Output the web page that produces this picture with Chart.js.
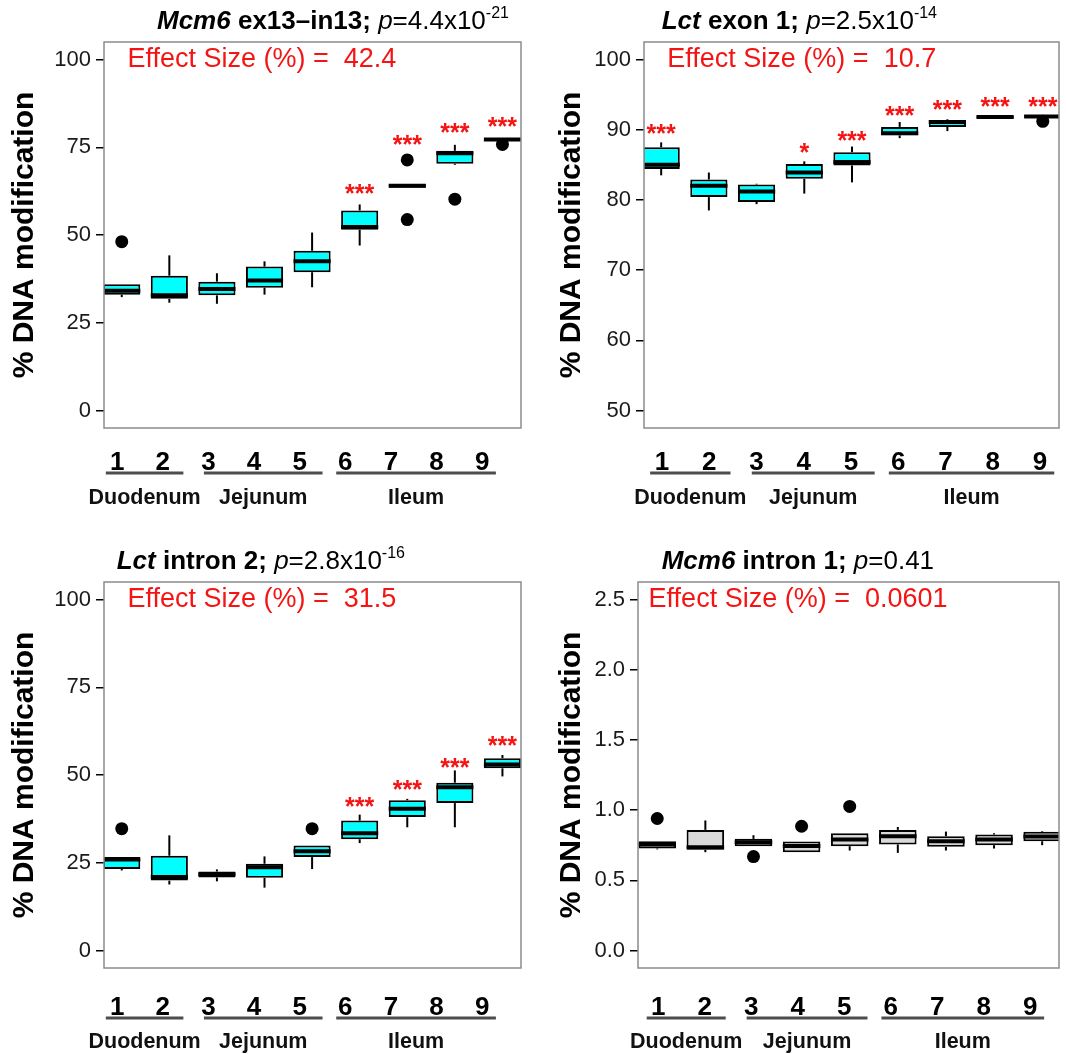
<!DOCTYPE html>
<html>
<head>
<meta charset="utf-8">
<script src="https://cdn.jsdelivr.net/npm/chart.js@4.4.0/dist/chart.umd.min.js"></script>
<style>
  body { margin: 0; background: #fff; }
  #wrap { position: relative; width: 1066px; height: 1054px; }
  canvas { position: absolute; }
</style>
</head>
<body>
<div id="wrap">
  <canvas id="p1" width="540" height="540" style="left:0;top:0"></canvas>
  <canvas id="p2" width="526" height="540" style="left:540px;top:0"></canvas>
  <canvas id="p3" width="540" height="514" style="left:0;top:540px"></canvas>
  <canvas id="p4" width="526" height="514" style="left:540px;top:540px"></canvas>
</div>
<script>
// intestinal segments
const categories = ['1', '2', '3', '4', '5', '6', '7', '8', '9'];
const groupNames = ['Duodenum', 'Jejunum', 'Ileum'];
const groupFrom = [0.75, 2.9, 5.8];
const groupTo = [2.45, 5.5, 9.3];

// y tick values
const pctTicks = [0, 25, 50, 75, 100];
const exonTicks = [50, 60, 70, 80, 90, 100];
const lowTicks = [0, 0.5, 1.0, 1.5, 2.0, 2.5];

// Mcm6 ex13-in13
const mcm6ExQ1  = [33.0, 31.8, 32.8, 35.0, 39.4, 51.5, 63.5, 70.3, 76.8];
const mcm6ExMed = [34.1, 32.8, 34.6, 37.0, 42.5, 52.3, 64.0, 73.3, 77.2];
const mcm6ExQ3  = [36.0, 38.4, 36.7, 41.0, 45.5, 57.0, 64.5, 74.0, 77.5];
const mcm6ExLo  = [32.3, 30.7, 30.4, 33.0, 35.1, 47.0, 63.5, 70.0, 76.8];
const mcm6ExHi  = [36.0, 44.2, 39.1, 42.5, 50.7, 58.7, 64.5, 75.7, 77.6];
const mcm6ExOutX = [1, 7, 7, 8, 9];
const mcm6ExOutY = [48.1, 71.4, 54.4, 60.2, 75.8];
const mcm6ExStarX = [6, 7, 8, 9];
const mcm6ExStarY = [63.3, 77.4, 80.7, 82.6];
const mcm6ExStars = ['***', '***', '***', '***'];

// Lct exon 1
const lctExQ1  = [84.4, 80.4, 79.7, 83.0, 84.9, 89.2, 90.4, 91.6, 91.7];
const lctExMed = [85.0, 82.0, 81.2, 83.9, 85.4, 89.5, 91.1, 91.8, 91.9];
const lctExQ3  = [87.5, 82.9, 82.2, 85.1, 86.8, 90.4, 91.4, 92.0, 92.1];
const lctExLo  = [83.5, 78.5, 79.4, 80.9, 82.5, 88.8, 89.8, 91.6, 91.7];
const lctExHi  = [88.2, 83.9, 82.3, 85.5, 87.6, 91.1, 91.5, 92.0, 92.1];
const lctExOutX = [9];
const lctExOutY = [91.2];
const lctExStarX = [1, 4, 5, 6, 7, 8, 9];
const lctExStarY = [90.3, 87.6, 89.3, 92.8, 93.7, 94.1, 94.1];
const lctExStars = ['***', '*', '***', '***', '***', '***', '***'];

// Lct intron 2
const lctInQ1  = [23.2, 19.9, 20.8, 20.7, 26.6, 31.7, 38.0, 42.0, 51.9];
const lctInMed = [25.9, 20.9, 21.7, 23.7, 28.3, 33.4, 40.4, 46.5, 53.0];
const lctInQ3  = [26.6, 27.0, 22.5, 24.7, 29.9, 37.0, 42.8, 47.8, 54.8];
const lctInLo  = [22.8, 18.8, 19.7, 17.9, 23.2, 30.6, 35.1, 35.1, 49.6];
const lctInHi  = [26.6, 32.8, 23.1, 26.8, 29.9, 38.7, 43.2, 51.3, 55.7];
const lctInOutX = [1, 5];
const lctInOutY = [34.7, 34.7];
const lctInStarX = [6, 7, 8, 9];
const lctInStarY = [42.7, 47.3, 53.8, 60.1];
const lctInStars = ['***', '***', '***', '***'];

// Mcm6 intron 1
const mcm6InQ1  = [0.726, 0.717, 0.743, 0.700, 0.743, 0.755, 0.738, 0.750, 0.778];
const mcm6InMed = [0.755, 0.736, 0.771, 0.745, 0.790, 0.814, 0.778, 0.790, 0.812];
const mcm6InQ3  = [0.778, 0.859, 0.795, 0.776, 0.835, 0.859, 0.814, 0.826, 0.845];
const mcm6InLo  = [0.720, 0.700, 0.743, 0.700, 0.712, 0.695, 0.712, 0.726, 0.750];
const mcm6InHi  = [0.778, 0.926, 0.821, 0.776, 0.835, 0.880, 0.847, 0.835, 0.850];
const mcm6InOutX = [1, 3, 4, 5];
const mcm6InOutY = [0.940, 0.669, 0.885, 1.026];

const FONT = '"Liberation Sans", Arial, Helvetica, sans-serif';
const RED = '#f41414';
const BOX_W = 0.78;

Chart.defaults.font.family = FONT;
Chart.defaults.color = '#1a1a1a';

function extras(p) {
  return {
    id: 'extras',
    afterDatasetsDraw(chart) {
      const { ctx, chartArea: a, scales: { x, y } } = chart;
      ctx.save();
      ctx.strokeStyle = '#8c8c8c';
      ctx.lineWidth = 1.5;
      ctx.strokeRect(a.left, a.top, a.right - a.left, a.bottom - a.top);

      // significance stars
      ctx.fillStyle = RED;
      ctx.font = 'bold 25px ' + FONT;
      ctx.textAlign = 'center';
      ctx.textBaseline = 'alphabetic';
      p.starX.forEach((sx, i) => {
        ctx.fillText(p.stars[i], x.getPixelForValue(sx), y.getPixelForValue(p.starY[i]) + 14);
      });

      ctx.font = '27px ' + FONT;
      ctx.textAlign = 'left';
      ctx.textBaseline = 'middle';
      ctx.fillText('Effect Size (%) =  ' + p.effect, a.left + p.effectDx,
        y.getPixelForValue(p.yTicks[p.yTicks.length - 1]));
      ctx.restore();
    },
    afterDraw(chart) {
      const { ctx, chartArea: a } = chart;
      const xl = chart.scales.xl;
      ctx.save();

      // title: italic gene name, bold region, p value
      ctx.fillStyle = '#000';
      ctx.textAlign = 'left';
      ctx.textBaseline = 'alphabetic';
      const parts = [
        { t: p.gene, f: 'italic bold 26px ' + FONT, dy: 0 },
        { t: p.region, f: 'bold 26px ' + FONT, dy: 0 },
        { t: ' ', f: '26px ' + FONT, dy: 0 },
        { t: 'p', f: 'italic 26px ' + FONT, dy: 0 },
        { t: p.pval, f: '26px ' + FONT, dy: 0 },
        { t: p.pexp, f: '16px ' + FONT, dy: -11 }
      ];
      let tx = p.titleX;
      parts.forEach(s => {
        if (!s.t) return;
        ctx.font = s.f;
        ctx.fillText(s.t, tx, p.titleY + s.dy);
        tx += ctx.measureText(s.t).width;
      });

      // segment groups under the axis
      ctx.strokeStyle = '#4d4d4d';
      ctx.lineWidth = 3;
      ctx.fillStyle = '#111';
      ctx.font = 'bold 21.5px ' + FONT;
      ctx.textAlign = 'center';
      ctx.textBaseline = 'middle';
      groupNames.forEach((g, i) => {
        const x0 = xl.getPixelForValue(groupFrom[i]);
        const x1 = xl.getPixelForValue(groupTo[i]);
        ctx.beginPath();
        ctx.moveTo(x0, a.bottom + p.lineDy);
        ctx.lineTo(x1, a.bottom + p.lineDy);
        ctx.stroke();
        ctx.fillText(g, (x0 + x1) / 2, a.bottom + p.groupDy);
      });
      ctx.restore();
    }
  };
}

function boxPanel(id, p) {
  const canvas = document.getElementById(id);
  const xs = categories.map((c, i) => i + 1);
  const boxes = xs.map((x, i) => ({ x, y: [p.q1[i], p.q3[i]] }));
  const upper = xs.map((x, i) => ({ x, y: [p.q3[i], p.hi[i]] }));
  const lower = xs.map((x, i) => ({ x, y: [p.lo[i], p.q1[i]] }));
  const medians = xs.map((x, i) => ({ x, y: p.med[i] }));
  const outliers = p.outX.map((x, i) => ({ x, y: p.outY[i] }));
  const halfBox = ctx => {
    const s = ctx.chart.scales.x;
    return s.getPixelForValue(1 + BOX_W / 2) - s.getPixelForValue(1);
  };

  new Chart(canvas, {
    type: 'bar',
    data: {
      datasets: [
        { type: 'bar', data: upper, grouped: false, maxBarThickness: 2, backgroundColor: '#000', order: 5 },
        { type: 'bar', data: lower, grouped: false, maxBarThickness: 2, backgroundColor: '#000', order: 4 },
        {
          type: 'bar', data: boxes, grouped: false,
          categoryPercentage: 1, barPercentage: BOX_W,
          backgroundColor: p.fill, borderColor: '#000', borderWidth: 2, borderSkipped: false, order: 3
        },
        {
          type: 'scatter', data: medians, pointStyle: 'line', pointRadius: halfBox,
          borderColor: '#000', borderWidth: 4, order: 2
        },
        {
          type: 'scatter', data: outliers, pointStyle: 'circle', pointRadius: 6.5,
          backgroundColor: '#000', borderWidth: 0, order: 1
        }
      ]
    },
    options: {
      responsive: false,
      animation: false,
      devicePixelRatio: 1,
      layout: { padding: { left: 0, right: p.padRight, top: 42, bottom: 0 } },
      plugins: { legend: { display: false }, tooltip: { enabled: false } },
      scales: {
        x: {
          type: 'linear', display: false, offset: false,
          min: p.xMin, max: p.xMax,
          afterBuildTicks: s => { s.ticks = xs.map(v => ({ value: v })); }
        },
        xl: {
          type: 'linear', position: 'bottom', offset: false,
          min: p.lblMin, max: p.lblMax,
          afterBuildTicks: s => { s.ticks = xs.map(v => ({ value: v })); },
          afterFit: s => { s.height = canvas.height - 428; },
          grid: { display: false },
          border: { display: false },
          ticks: {
            autoSkip: false, maxRotation: 0, padding: p.tickPad, color: '#000',
            font: { size: 26, weight: 'bold' },
            callback: v => categories[v - 1]
          }
        },
        y: {
          type: 'linear', min: p.yMin, max: p.yMax,
          afterBuildTicks: s => { s.ticks = p.yTicks.map(v => ({ value: v })); },
          afterFit: s => { s.width = p.yWidth; },
          grid: { drawOnChartArea: false, drawTicks: true, tickLength: 8, color: '#000', lineWidth: 1.5 },
          border: { display: false },
          ticks: {
            padding: 5, color: '#1a1a1a', font: { size: 22 },
            callback: v => p.tickFmt(v)
          },
          title: {
            display: true, text: '% DNA modification', color: '#000',
            font: { size: 30, weight: 'bold' },
            padding: { top: p.yTitlePad, bottom: 0 }
          }
        }
      }
    },
    plugins: [extras(p)]
  });
}

const intFmt = v => String(v);
const decFmt = v => v.toFixed(1);

boxPanel('p1', {
  q1: mcm6ExQ1, med: mcm6ExMed, q3: mcm6ExQ3, lo: mcm6ExLo, hi: mcm6ExHi,
  outX: mcm6ExOutX, outY: mcm6ExOutY, starX: mcm6ExStarX, starY: mcm6ExStarY, stars: mcm6ExStars,
  yTicks: pctTicks, yMin: -5, yMax: 105, tickFmt: intFmt, fill: '#00ffff',
  gene: 'Mcm6', region: ' ex13\u2013in13;', pval: '=4.4x10', pexp: '-21', effect: '42.4',
  xMin: 0.627, xMax: 9.39, lblMin: 0.71, lblMax: 9.85,
  yWidth: 104, padRight: 19, titleX: 157, titleY: 29, effectDx: 23.4,
  yTitlePad: 7, tickPad: 11, lineDy: 45, groupDy: 70
});

boxPanel('p2', {
  q1: lctExQ1, med: lctExMed, q3: lctExQ3, lo: lctExLo, hi: lctExHi,
  outX: lctExOutX, outY: lctExOutY, starX: lctExStarX, starY: lctExStarY, stars: lctExStars,
  yTicks: exonTicks, yMin: 47.5, yMax: 102.5, tickFmt: intFmt, fill: '#00ffff',
  gene: 'Lct', region: ' exon 1;', pval: '=2.5x10', pexp: '-14', effect: '10.7',
  xMin: 0.64, xMax: 9.34, lblMin: 0.62, lblMax: 9.4,
  yWidth: 104, padRight: 7, titleX: 121.7, titleY: 29, effectDx: 23.3,
  yTitlePad: 14, tickPad: 11, lineDy: 45, groupDy: 70
});

boxPanel('p3', {
  q1: lctInQ1, med: lctInMed, q3: lctInQ3, lo: lctInLo, hi: lctInHi,
  outX: lctInOutX, outY: lctInOutY, starX: lctInStarX, starY: lctInStarY, stars: lctInStars,
  yTicks: pctTicks, yMin: -5, yMax: 105, tickFmt: intFmt, fill: '#00ffff',
  gene: 'Lct', region: ' intron 2;', pval: '=2.8x10', pexp: '-16', effect: '31.5',
  xMin: 0.627, xMax: 9.39, lblMin: 0.71, lblMax: 9.85,
  yWidth: 104, padRight: 19, titleX: 116.7, titleY: 29, effectDx: 23.4,
  yTitlePad: 7, tickPad: 16, lineDy: 50, groupDy: 74
});

boxPanel('p4', {
  q1: mcm6InQ1, med: mcm6InMed, q3: mcm6InQ3, lo: mcm6InLo, hi: mcm6InHi,
  outX: mcm6InOutX, outY: mcm6InOutY, starX: [], starY: [], stars: [],
  yTicks: lowTicks, yMin: -0.125, yMax: 2.625, tickFmt: decFmt, fill: '#d9d9d9',
  gene: 'Mcm6', region: ' intron 1;', pval: '=0.41', pexp: '', effect: '0.0601',
  xMin: 0.6, xMax: 9.35, lblMin: 0.563, lblMax: 9.62,
  yWidth: 98, padRight: 7, titleX: 121.7, titleY: 29, effectDx: 10.6,
  yTitlePad: 14, tickPad: 16, lineDy: 50, groupDy: 74
});
</script>
</body>
</html>
